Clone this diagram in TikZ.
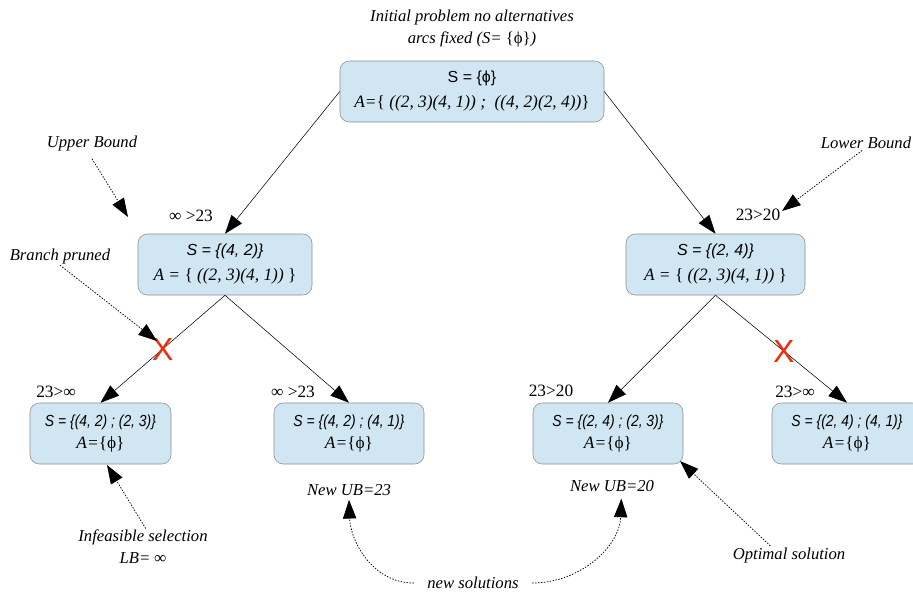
\documentclass[tikz,border=0pt]{standalone}
\usepackage{fontspec}
\setmainfont{Liberation Serif}
\newfontfamily\arialfont{Liberation Sans}
\newfontfamily\narrowfont[FakeStretch=0.87]{Liberation Sans}
\usetikzlibrary{arrows.meta}
\definecolor{boxblue}{HTML}{D0E6F3}
\definecolor{boxgray}{HTML}{8C8C8C}
\definecolor{crossred}{HTML}{E8300E}
\newcommand{\ub}{\textup{\{}}
\newcommand{\rb}{\textup{\}}}
\newcommand{\emptysel}{\textup{ϕ}}

\tikzset{
  state/.style={draw=boxgray, fill=boxblue, rounded corners=7pt, minimum height=45.75pt, align=center, inner sep=0pt, font=\fontsize{13}{18.75}\selectfont},
  leaf/.style={state, minimum width=112.5pt, font=\fontsize{13}{16.5}\selectfont},
  branch/.style={-{Triangle[length=14pt,width=10pt]}, thin},
  note/.style={-{Triangle[length=14pt,width=10pt]}, dash pattern=on 1.1pt off 1.1pt, line width=0.55pt},
  bound/.style={font=\fontsize{13}{13}\selectfont, inner sep=0pt},
  remark/.style={font=\itshape\fontsize{12.5}{16.5}\selectfont, align=center, inner sep=1pt},
  cross/.style={text=crossred, font=\arialfont\fontsize{24}{24}\selectfont, inner sep=0pt}
}

\begin{document}
\begin{tikzpicture}[x=0.75pt,y=-0.75pt]
\useasboundingbox (0,0) rectangle (913,594);
\node[remark] (title) at (472,28) {Initial problem no alternatives\\arcs fixed (S= \ub\emptysel\rb)};
\node[state, minimum width=198pt] (root) at (472,91.5) {{\arialfont\fontsize{12}{12}\selectfont S = \{ϕ\}}\\\textit{A=\ub{} ((2, 3)(4, 1)) ;\ \ ((4, 2)(2, 4))\rb}};
\node[state, minimum width=130.5pt] (l1) at (225,264.5) {{\arialfont\itshape\fontsize{12}{12}\selectfont S = \{(4, 2)\}}\\\textit{A = \ub{} ((2, 3)(4, 1)) \rb}};
\node[state, minimum width=134.25pt] (r1) at (715.5,264.5) {{\arialfont\itshape\fontsize{12}{12}\selectfont S = \{(2, 4)\}}\\\textit{A = \ub{} ((2, 3)(4, 1)) \rb}};
\node[leaf, minimum width=105.75pt] (ll) at (100.5,433.5) {{\narrowfont\itshape\fontsize{12}{12}\selectfont S = \{(4, 2) ; (2, 3)\}}\\\textit{A=\ub\emptysel\rb}};
\node[leaf] (lr) at (349,433.5) {{\narrowfont\itshape\fontsize{12}{12}\selectfont S = \{(4, 2) ; (4, 1)\}}\\\textit{A=\ub\emptysel\rb}};
\node[leaf] (rl) at (608,433.5) {{\narrowfont\itshape\fontsize{12}{12}\selectfont S = \{(2, 4) ; (2, 3)\}}\\\textit{A=\ub\emptysel\rb}};
\node[leaf] (rr) at (847,433.5) {{\narrowfont\itshape\fontsize{12}{12}\selectfont S = \{(2, 4) ; (4, 1)\}}\\\textit{A=\ub\emptysel\rb}};

\draw[branch] (root.west) -- (l1.north);
\draw[branch] (root.east) -- (r1.north);
\draw[branch] (l1.south) -- node[cross, pos=0.5]{X} (ll.north);
\draw[branch] (l1.south) -- (lr.north);
\draw[branch] (r1.south) -- (rl.north);
\draw[branch] (r1.south) -- node[cross, pos=0.52]{X} (rr.north);

\node[bound] (bl1) at (191,216) {∞ >23};
\node[bound] (br1) at (758,215) {23>20};
\node[bound] (bll) at (56,392) {23>∞};
\node[bound] (blr) at (293,392) {∞ >23};
\node[bound] (brl) at (551,391) {23>20};
\node[bound] (brr) at (795,392) {23>∞};

\node[remark] (upper) at (92,143) {Upper Bound};
\node[remark] (lower) at (866,143) {Lower Bound};
\node[remark] (pruned) at (60,256) {Branch pruned};
\node[remark] (infeas) at (143,547) {Infeasible selection\\LB= ∞};
\node[remark] (optimal) at (789,555) {Optimal solution};
\node[remark] (newub23) at (349,490) {New UB=23};
\node[remark] (newub20) at (612,486) {New UB=20};
\node[remark] (newsol) at (473,583) {new solutions};

\coordinate (uptip) at (128,217);
\coordinate (lowtip) at (782,211);
\coordinate (prunetip) at (157,341);
\coordinate (inftip) at (107,465);
\coordinate (opttip) at (680,461);

\draw[note] ([yshift=-5pt]upper.south) -- (uptip);
\draw[note] ([xshift=-3pt]lower.south) -- (lowtip);
\draw[note] (pruned.south) -- (prunetip);
\draw[note] ([xshift=2pt]infeas.north) -- (inftip);
\draw[note] ([xshift=-14pt]optimal.north) -- (opttip);
\draw[note] ([xshift=-9pt]newsol.west) to[out=180,in=-88] ([yshift=-2pt]newub23.south);
\draw[note] ([xshift=9pt]newsol.east) to[out=0,in=-92] ([xshift=7pt,yshift=-4pt]newub20.south);
\end{tikzpicture}
\end{document}
